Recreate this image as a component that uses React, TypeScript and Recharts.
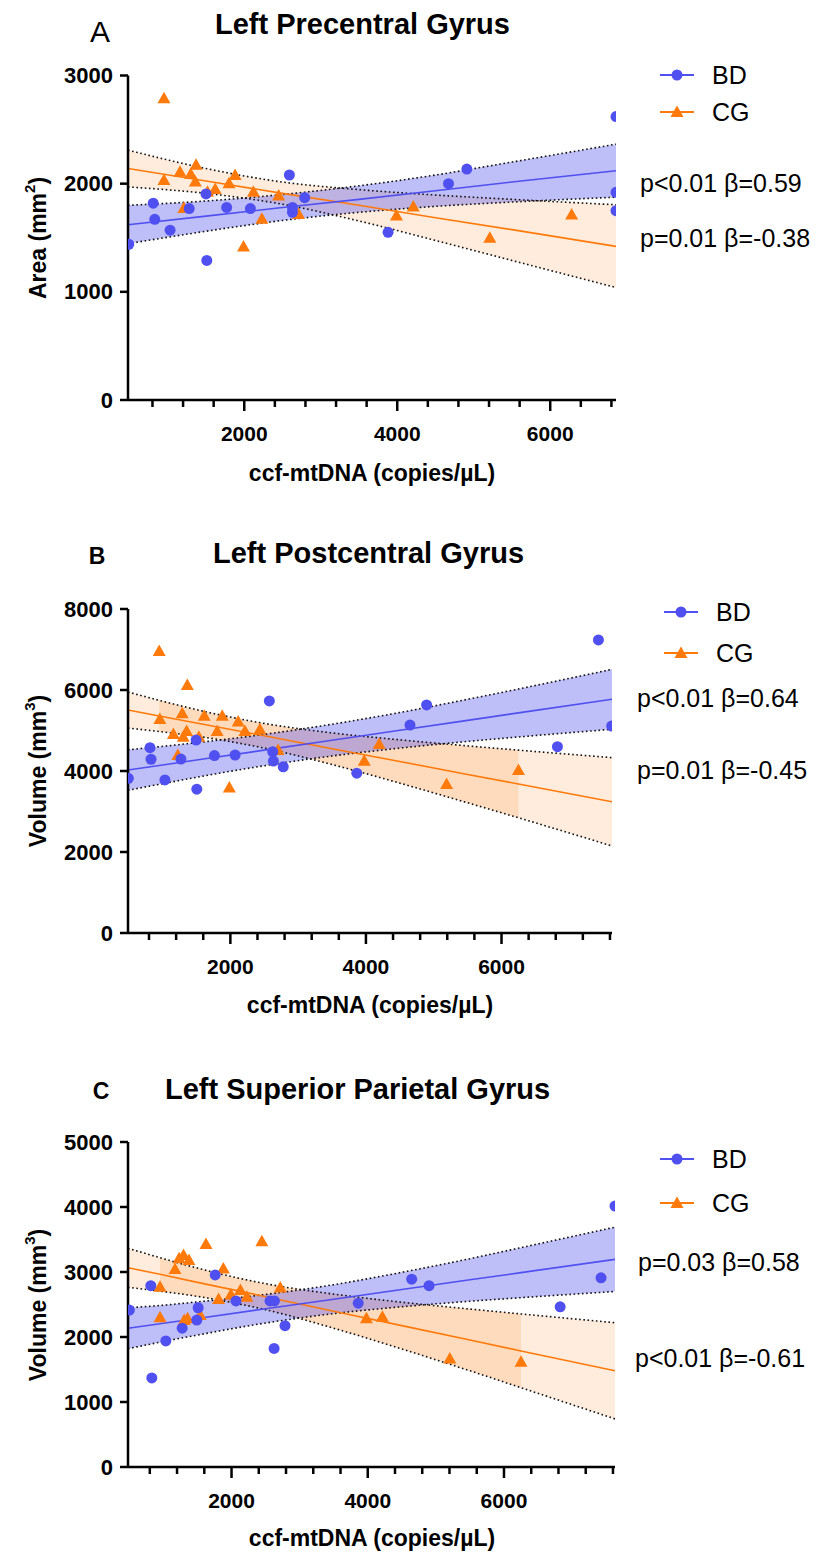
import React from 'react';
import { Area, ComposedChart, Line, Scatter, XAxis, YAxis } from 'recharts';

const FONT = '"Liberation Sans", Arial, Helvetica, sans-serif';
const BLUE = '#5050F0';
const ORANGE = '#FF7A0A';

// A - Left Precentral Gyrus (area)
const aBdX = [490, 810, 830, 1030, 1510, 1500, 1280, 1770, 2080, 2590, 2630, 2630, 2790, 3880, 4670, 4910, 6860, 6860, 6860];
const aBdY = [1440, 1820, 1670, 1570, 1290, 1905, 1770, 1780, 1770, 2080, 1780, 1735, 1870, 1550, 2000, 2135, 2620, 1920, 1750];
const aCgX = [950, 950, 1160, 1370, 1300, 1360, 1210, 1520, 1620, 1880, 1800, 2120, 2230, 1990, 2450, 2710, 3990, 4210, 5210, 6280];
const aCgY = [2790, 2035, 2110, 2175, 2090, 2020, 1775, 1925, 1950, 2080, 2005, 1925, 1675, 1420, 1890, 1720, 1705, 1790, 1500, 1715];
const aFitX = [480, 1500, 2500, 3500, 4500, 5500, 6860];
const aBdFit = [1620, 1700, 1780, 1855, 1935, 2015, 2120];
const aBdLo = [1445, 1560, 1660, 1735, 1790, 1830, 1875];
const aBdHi = [1800, 1840, 1900, 1980, 2080, 2200, 2365];
const aCgFit = [2140, 2025, 1910, 1800, 1685, 1575, 1420];
const aCgLo = [1970, 1910, 1810, 1655, 1475, 1290, 1040];
const aCgHi = [2310, 2140, 2015, 1945, 1895, 1855, 1805];

// B - Left Postcentral Gyrus (volume)
const bBdX = [495, 815, 830, 1035, 1505, 1495, 1270, 1765, 2070, 2575, 2625, 2635, 2780, 3865, 4650, 4895, 6825, 7430, 7625];
const bBdY = [3820, 4575, 4290, 3780, 3550, 4765, 4295, 4380, 4395, 5730, 4475, 4245, 4105, 3945, 5135, 5630, 4600, 7235, 5110];
const bCgX = [950, 1365, 960, 1290, 1615, 1880, 2115, 1805, 2215, 2435, 1160, 1355, 1305, 1535, 1225, 1985, 2705, 4195, 3975, 5190, 6250];
const bCgY = [6965, 6125, 5285, 5425, 5365, 5365, 5220, 4990, 4990, 5030, 4915, 4990, 4845, 4845, 4395, 3590, 4520, 4665, 4255, 3680, 4025];
const bFitX = [490, 950, 1500, 2500, 3500, 4500, 5500, 6250, 7630];
const bBdFit = [4025, 4135, 4270, 4515, 4760, 5005, 5250, 5435, 5770];
const bBdLo = [3525, 3670, 3845, 4130, 4370, 4565, 4730, 4840, 5030];
const bBdHi = [4525, 4600, 4700, 4905, 5155, 5445, 5770, 6025, 6510];
const bCgFit = [5505, 5360, 5185, 4870, 4550, 4235, 3915, 3680, 3240];
const bCgLo = [5060, 4975, 4860, 4565, 4160, 3700, 3215, 2845, 2150];
const bCgHi = [5950, 5745, 5515, 5175, 4940, 4770, 4620, 4515, 4330];

// C - Left Superior Parietal Gyrus (volume)
const cBdX = [500, 815, 830, 1035, 1275, 1490, 1510, 1760, 2065, 2565, 2630, 2785, 2625, 3860, 4645, 4900, 6825, 7425, 7630];
const cBdY = [2415, 2790, 1370, 1940, 2135, 2260, 2450, 2955, 2555, 2555, 2555, 2175, 1825, 2520, 2890, 2790, 2465, 2910, 4015];
const cCgX = [950, 1170, 1230, 1295, 1375, 1625, 1880, 1810, 1990, 2130, 2225, 2445, 2715, 950, 1305, 1355, 1540, 3980, 4215, 5205, 6250];
const cCgY = [2775, 3045, 3210, 3260, 3185, 3430, 3055, 2585, 2655, 2725, 2620, 3475, 2760, 2305, 2260, 2290, 2340, 2290, 2310, 1670, 1620];
const cFitX = [480, 950, 1500, 2500, 3500, 4500, 5500, 6250, 7630];
const cBdFit = [2135, 2205, 2285, 2435, 2580, 2730, 2880, 2990, 3195];
const cBdLo = [1820, 1920, 2030, 2215, 2360, 2465, 2550, 2605, 2700];
const cBdHi = [2450, 2485, 2540, 2655, 2805, 2995, 3205, 3375, 3690];
const cCgFit = [3065, 2965, 2840, 2620, 2395, 2175, 1955, 1785, 1480];
const cCgLo = [2765, 2705, 2625, 2420, 2135, 1815, 1480, 1220, 740];
const cCgHi = [3365, 3220, 3060, 2820, 2660, 2535, 2430, 2355, 2220];

const xTicksA = [800, 1200, 1600, 2000, 2400, 2800, 3200, 3600, 4000, 4400, 4800, 5200, 5600, 6000, 6400, 6800];
const xTicksBC = [800, 1200, 1600, 2000, 2400, 2800, 3200, 3600, 4000, 4400, 4800, 5200, 5600, 6000, 6400, 6800, 7200, 7600];
const xLabelled = [2000, 4000, 6000];

const pts = (xs: number[], ys: number[]) => xs.map((x, i) => ({ x, y: ys[i] }));
const band = (xs: number[], fit: number[], lo: number[], hi: number[]) =>
  xs.map((x, i) => ({ x, fit: fit[i], lo: lo[i], hi: hi[i] }));

type Row = { x: number; fit: number; lo: number; hi: number };
type Panel = {
  top: number;
  height: number;
  plotTop: number;
  plotBottom: number;
  right: number;
  xDomain: [number, number];
  xTicks: number[];
  yDomain: [number, number];
  yTicks: number[];
  bd: { x: number; y: number }[];
  cg: { x: number; y: number }[];
  bdBand: Row[];
  cgBand: Row[];
  cgRange?: [number, number];
};

const panels: Panel[] = [
  {
    top: 0, height: 500, plotTop: 75.5, plotBottom: 400, right: 616,
    xDomain: [480, 6860], xTicks: xTicksA, yDomain: [0, 3000], yTicks: [0, 1000, 2000, 3000],
    bd: pts(aBdX, aBdY), cg: pts(aCgX, aCgY),
    bdBand: band(aFitX, aBdFit, aBdLo, aBdHi), cgBand: band(aFitX, aCgFit, aCgLo, aCgHi),
  },
  {
    top: 530, height: 510, plotTop: 609, plotBottom: 933, right: 612,
    xDomain: [490, 7630], xTicks: xTicksBC, yDomain: [0, 8000], yTicks: [0, 2000, 4000, 6000, 8000],
    bd: pts(bBdX, bBdY), cg: pts(bCgX, bCgY),
    bdBand: band(bFitX, bBdFit, bBdLo, bBdHi), cgBand: band(bFitX, bCgFit, bCgLo, bCgHi),
    cgRange: [950, 6250],
  },
  {
    top: 1060, height: 495, plotTop: 1142, plotBottom: 1467, right: 615,
    xDomain: [480, 7630], xTicks: xTicksBC, yDomain: [0, 5000], yTicks: [0, 1000, 2000, 3000, 4000, 5000],
    bd: pts(cBdX, cBdY), cg: pts(cCgX, cCgY),
    bdBand: band(cFitX, cBdFit, cBdLo, cBdHi), cgBand: band(cFitX, cCgFit, cCgLo, cCgHi),
    cgRange: [950, 6250],
  },
];

const XTick = (props: any) => {
  const { x, y, payload } = props;
  const major = xLabelled.includes(payload.value);
  return (
    <g>
      <line x1={x} x2={x} y1={y} y2={y + (major ? 11 : 7)} stroke="#000" strokeWidth={2.5} />
      {major && (
        <text x={x} y={y + 33} textAnchor="middle" dominantBaseline="central"
          fontFamily={FONT} fontWeight="bold" fontSize={21} fill="#000">
          {payload.value}
        </text>
      )}
    </g>
  );
};

const YTick = (props: any) => {
  const { x, y, payload } = props;
  return (
    <g>
      <line x1={x - 8} x2={x} y1={y} y2={y} stroke="#000" strokeWidth={2.5} />
      <text x={x - 15} y={y} textAnchor="end" dominantBaseline="central"
        fontFamily={FONT} fontWeight="bold" fontSize={22} fill="#000">
        {payload.value}
      </text>
    </g>
  );
};

const dot = (p: any) => <circle cx={p.cx} cy={p.cy} r={5.5} fill={BLUE} />;
const tri = (p: any) => (
  <path d={`M${p.cx},${p.cy - 6.5} L${p.cx + 6.5},${p.cy + 5} L${p.cx - 6.5},${p.cy + 5} Z`} fill={ORANGE} />
);
const range = (r: any) => [r.lo, r.hi];

function PanelChart({ p }: { p: Panel }) {
  const xAxisH = 40;
  const dark = p.cgRange ? p.cgBand.filter((r) => r.x >= p.cgRange![0] && r.x <= p.cgRange![1]) : [];
  const dotted = { stroke: '#111', strokeWidth: 1.6, strokeDasharray: '1.6 2.6', dot: false, isAnimationActive: false };
  return (
    <div style={{ position: 'absolute', left: 0, top: p.top, width: 825, height: p.height }}>
      <ComposedChart
        width={825}
        height={p.height}
        margin={{ top: p.plotTop - p.top, right: 825 - p.right, left: 0, bottom: p.top + p.height - p.plotBottom - xAxisH }}
      >
        <XAxis dataKey="x" type="number" domain={p.xDomain} ticks={p.xTicks} interval={0} height={xAxisH}
          tickSize={0} tickMargin={0} tickLine={false} tick={<XTick />}
          axisLine={{ stroke: '#000', strokeWidth: 2.5 }} allowDataOverflow />
        <YAxis type="number" domain={p.yDomain} ticks={p.yTicks} interval={0} width={128}
          tickSize={0} tickMargin={0} tickLine={false} tick={<YTick />}
          axisLine={{ stroke: '#000', strokeWidth: 2.5 }} />
        <Area data={p.cgBand} dataKey={range} type="monotone" stroke="none" fill={ORANGE} fillOpacity={0.14} isAnimationActive={false} />
        {p.cgRange && (
          <Area data={dark} dataKey={range} type="monotone" stroke="none" fill={ORANGE} fillOpacity={0.14} isAnimationActive={false} />
        )}
        <Area data={p.bdBand} dataKey={range} type="monotone" stroke="none" fill={BLUE} fillOpacity={0.37} isAnimationActive={false} />
        <Line data={p.cgBand} dataKey="lo" type="monotone" {...dotted} />
        <Line data={p.cgBand} dataKey="hi" type="monotone" {...dotted} />
        <Line data={p.bdBand} dataKey="lo" type="monotone" {...dotted} />
        <Line data={p.bdBand} dataKey="hi" type="monotone" {...dotted} />
        <Line data={p.cgBand} dataKey="fit" type="linear" stroke={ORANGE} strokeWidth={1.6} dot={false} isAnimationActive={false} />
        <Line data={p.bdBand} dataKey="fit" type="linear" stroke={BLUE} strokeWidth={1.6} dot={false} isAnimationActive={false} />
        <Scatter data={p.cg} dataKey="y" shape={tri} isAnimationActive={false} />
        <Scatter data={p.bd} dataKey="y" shape={dot} isAnimationActive={false} />
      </ComposedChart>
    </div>
  );
}

const T = (props: any) => (
  <text fontFamily={FONT} fill="#000" dominantBaseline="central" {...props} />
);

function LegendRow({ y, x0, label, marker }: { y: number; x0: number; label: string; marker: 'dot' | 'tri' }) {
  const c = marker === 'dot' ? BLUE : ORANGE;
  const mx = x0 + 17;
  return (
    <g>
      <line x1={x0} x2={x0 + 34} y1={y} y2={y} stroke={c} strokeWidth={1.8} />
      {marker === 'dot' ? (
        <circle cx={mx} cy={y} r={5.5} fill={c} />
      ) : (
        <path d={`M${mx},${y - 6.5} L${mx + 6.5},${y + 5} L${mx - 6.5},${y + 5} Z`} fill={c} />
      )}
      <T x={x0 + 52} y={y} fontSize={25}>{label}</T>
    </g>
  );
}

function YTitle({ cx, cy, word, sup }: { cx: number; cy: number; word: string; sup: string }) {
  return (
    <text transform={`translate(${cx},${cy}) rotate(-90)`} textAnchor="middle" dominantBaseline="central"
      fontFamily={FONT} fontWeight="bold" fontSize={23} fill="#000">
      {word} (mm<tspan fontSize={15} dy={-9}>{sup}</tspan><tspan dy={9}>)</tspan>
    </text>
  );
}

export default function App() {
  const xt = 'ccf-mtDNA (copies/µL)';
  return (
    <div style={{ position: 'absolute', left: 0, top: 0, width: 825, height: 1555, background: '#fff' }}>
      {panels.map((p, i) => (
        <PanelChart key={i} p={p} />
      ))}
      <svg width={825} height={1555} style={{ position: 'absolute', left: 0, top: 0, pointerEvents: 'none' }}>
        {/* panel A */}
        <T x={100} y={31} fontSize={30} textAnchor="middle">A</T>
        <T x={215} y={24} fontSize={29} fontWeight="bold">Left Precentral Gyrus</T>
        <T x={372} y={473} fontSize={23} fontWeight="bold" textAnchor="middle">{xt}</T>
        <YTitle cx={38} cy={238} word="Area" sup="2" />
        <LegendRow y={75} x0={660} label="BD" marker="dot" />
        <LegendRow y={112} x0={660} label="CG" marker="tri" />
        <T x={640} y={183} fontSize={25}>p&lt;0.01 β=0.59</T>
        <T x={640} y={238} fontSize={25}>p=0.01 β=-0.38</T>

        {/* panel B */}
        <T x={97} y={556} fontSize={23} fontWeight="bold" textAnchor="middle">B</T>
        <T x={213} y={553} fontSize={29} fontWeight="bold">Left Postcentral Gyrus</T>
        <T x={370} y={1005} fontSize={23} fontWeight="bold" textAnchor="middle">{xt}</T>
        <YTitle cx={38} cy={771} word="Volume" sup="3" />
        <LegendRow y={612} x0={664} label="BD" marker="dot" />
        <LegendRow y={653} x0={664} label="CG" marker="tri" />
        <T x={637} y={698} fontSize={25}>p&lt;0.01 β=0.64</T>
        <T x={637} y={770} fontSize={25}>p=0.01 β=-0.45</T>

        {/* panel C */}
        <T x={101} y={1091} fontSize={23} fontWeight="bold" textAnchor="middle">C</T>
        <T x={165} y={1089} fontSize={29} fontWeight="bold">Left Superior Parietal Gyrus</T>
        <T x={372} y={1538} fontSize={23} fontWeight="bold" textAnchor="middle">{xt}</T>
        <YTitle cx={38} cy={1305} word="Volume" sup="3" />
        <LegendRow y={1159} x0={660} label="BD" marker="dot" />
        <LegendRow y={1203} x0={660} label="CG" marker="tri" />
        <T x={638} y={1262} fontSize={25}>p=0.03 β=0.58</T>
        <T x={635} y={1358} fontSize={25}>p&lt;0.01 β=-0.61</T>
      </svg>
    </div>
  );
}
